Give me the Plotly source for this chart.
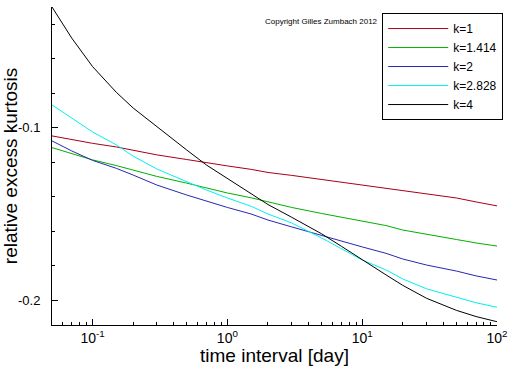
import plotly.graph_objects as go

# time interval [day]
x_days = [0.05, 0.07, 0.1, 0.15, 0.2, 0.3, 0.5, 0.7, 1, 1.5, 2, 3, 5, 7, 10, 15, 20, 30, 50, 70, 100]

k_labels = ["k=1", "k=1.414", "k=2", "k=2.828", "k=4"]

k1 = [-0.1048, -0.1070, -0.1091, -0.1112, -0.1132, -0.1158, -0.1185, -0.1204, -0.1222, -0.1242,
      -0.1260, -0.1277, -0.1301, -0.1317, -0.1333, -0.1349, -0.1364, -0.1385, -0.1408, -0.1431, -0.1454]
k1414 = [-0.1116, -0.1152, -0.1187, -0.1220, -0.1247, -0.1283, -0.1322, -0.1351, -0.1379, -0.1407,
         -0.1431, -0.1463, -0.1498, -0.1519, -0.1541, -0.1568, -0.1594, -0.1620, -0.1649, -0.1669, -0.1687]
k2 = [-0.1077, -0.1135, -0.1190, -0.1236, -0.1275, -0.1333, -0.1391, -0.1428, -0.1463, -0.1501,
      -0.1536, -0.1576, -0.1626, -0.1659, -0.1692, -0.1729, -0.1762, -0.1797, -0.1832, -0.1860, -0.1884]
k2828 = [-0.0868, -0.0945, -0.1025, -0.1100, -0.1165, -0.1240, -0.1315, -0.1362, -0.1408, -0.1456,
         -0.1501, -0.1553, -0.1640, -0.1700, -0.1768, -0.1825, -0.1878, -0.1935, -0.1985, -0.2016, -0.2042]
k4 = [-0.0300, -0.0480, -0.0646, -0.0795, -0.0886, -0.0996, -0.1130, -0.1217, -0.1294, -0.1383,
      -0.1446, -0.1520, -0.1616, -0.1688, -0.1768, -0.1854, -0.1915, -0.1990, -0.2060, -0.2096, -0.2126]

series = [k1, k1414, k2, k2828, k4]
colors = ["#a80018", "#00b000", "#2828b0", "#00f0f0", "#000000"]

x_tickvals = [0.1, 1, 10, 100]
x_ticktext = ["10<sup>-1</sup>", "10<sup>0</sup>", "10<sup>1</sup>", "10<sup>2</sup>"]
y_tickvals = [-0.2, -0.1]
y_ticktext = ["-0.2", "-0.1"]

fig = go.Figure()
for name, ys, c in zip(k_labels, series, colors):
    fig.add_trace(go.Scatter(x=x_days, y=ys, mode="lines", name=name,
                             line=dict(color=c, width=1)))

fig.update_layout(
    width=512, height=366,
    margin=dict(l=52, r=15, t=7, b=41),
    paper_bgcolor="white", plot_bgcolor="white",
    font=dict(family="Liberation Sans, Arial, sans-serif", color="black"),
    showlegend=True,
    legend=dict(x=0.742, y=0.981, xanchor="left", yanchor="top",
                bordercolor="black", borderwidth=1, bgcolor="white",
                font=dict(size=12), tracegroupgap=0, itemwidth=60),
    annotations=[dict(text="Copyright Gilles Zumbach 2012", x=0.475, y=0.975,
                      xref="paper", yref="paper", xanchor="left", yanchor="top",
                      showarrow=False, font=dict(size=8))],
)

fig.update_xaxes(
    type="log", range=[-1.301, 2], automargin=False,
    tickvals=x_tickvals, ticktext=x_ticktext,
    ticks="inside", ticklen=6, tickcolor="black",
    minor=dict(ticks="inside", ticklen=3, tickcolor="black", dtick="D1", showgrid=False),
    showline=True, linecolor="black", linewidth=1, mirror=False,
    showgrid=False, zeroline=False,
    tickfont=dict(size=14),
    title=dict(text="time interval [day]", font=dict(size=19), standoff=0),
)
fig.update_yaxes(
    range=[-0.2145, -0.03], automargin=False,
    tickvals=y_tickvals, ticktext=y_ticktext,
    ticks="inside", ticklen=6, tickcolor="black", ticklabelstandoff=8,
    minor=dict(ticks="inside", ticklen=3, tickcolor="black", dtick=0.02, tick0=0, showgrid=False),
    showline=True, linecolor="black", linewidth=1, mirror=False,
    showgrid=False, zeroline=False,
    tickfont=dict(size=13),
    title=dict(text="relative excess kurtosis", font=dict(size=19), standoff=4),
)

fig.write_html("out.html", config={"displayModeBar": False},
               post_script="document.body.style.margin='0';")
